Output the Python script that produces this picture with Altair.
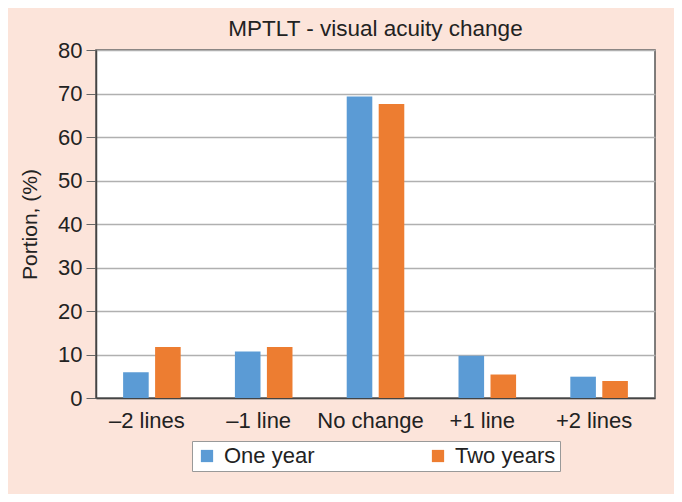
import altair as alt
import pandas as pd

categories = ["–2 lines", "–1 line", "No change", "+1 line", "+2 lines"]
one_year = [5.9, 10.7, 69.3, 9.7, 4.9]
two_years = [11.7, 11.7, 67.6, 5.4, 3.9]
series = ["One year", "Two years"]
colors = ["#5B9BD5", "#ED7D31"]

rows = []
for c, a, b in zip(categories, one_year, two_years):
    rows.append({"cat": c, "series": series[0], "value": a})
    rows.append({"cat": c, "series": series[1], "value": b})
df = pd.DataFrame(rows)

FONT = "Liberation Sans"

chart = alt.Chart(df).mark_bar().encode(
    x=alt.X("cat:N", sort=categories,
            scale=alt.Scale(paddingInner=0.485, paddingOuter=0.2425),
            axis=alt.Axis(title=None, labelAngle=0, ticks=False, labelPadding=12,
                          labelOffset=-5,
                          labelFontSize=22, labelColor="#222", domainColor="#444",
                          domainWidth=1.5, labelFont=FONT)),
    xOffset=alt.XOffset("series:N", scale=alt.Scale(paddingInner=0.2, paddingOuter=0)),
    y=alt.Y("value:Q", scale=alt.Scale(domain=[0, 80], nice=False),
            axis=alt.Axis(title="Portion, (%)", values=list(range(0, 81, 10)),
                          tickSize=10, tickColor="#666", labelPadding=4,
                          labelFontSize=22, labelColor="#222", labelFont=FONT,
                          titleFont=FONT, titleFontSize=21, titleFontWeight="normal",
                          titleColor="#222", titlePadding=17,
                          gridColor="#b0b0b0", gridWidth=1.5,
                          domainColor="#444", domainWidth=1.5)),
    color=alt.Color("series:N", scale=alt.Scale(domain=series, range=colors),
                    legend=alt.Legend(title=None, orient="none", direction="horizontal",
                                      legendX=96, legendY=391, symbolType="square",
                                      symbolSize=150, symbolStrokeWidth=0,
                                      labelFontSize=22, labelFont=FONT, labelColor="#222",
                                      fillColor="white", strokeColor="#999",
                                      padding=4, columnPadding=112, labelOffset=6)),
).properties(
    width=559, height=348,
    title=alt.TitleParams("MPTLT - visual acuity change", fontSize=22.5, font=FONT,
                          fontWeight="normal", color="#222", offset=-1, anchor="middle"),
    padding={"left": 88, "top": 42, "right": 19, "bottom": 96},
    autosize="none",
    background="#FCE4DA",
).configure_view(stroke="#555", strokeWidth=1.5, fill="white")

chart.save("out.html", embed_options={"renderer": "svg", "actions": False})
